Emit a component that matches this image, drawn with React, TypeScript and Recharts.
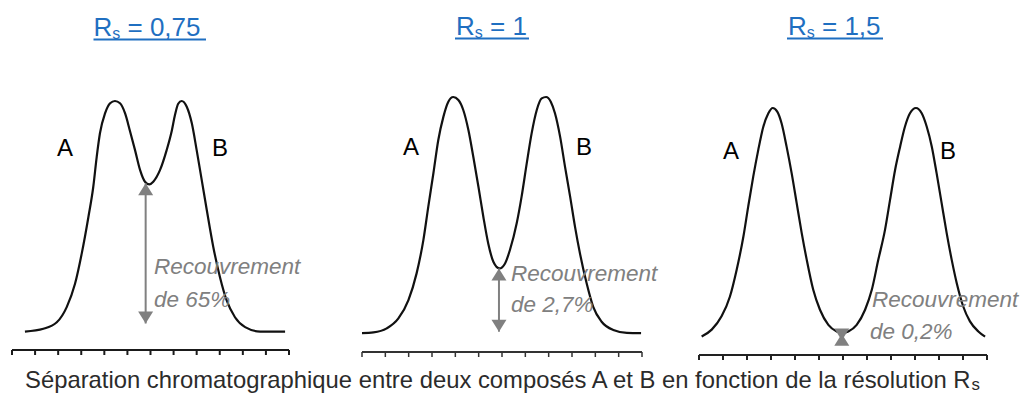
import { LineChart, Line, XAxis, YAxis, ReferenceLine } from 'recharts';

// retention time axis: 12 divisions per panel
const timeTicks = [0, 1, 2, 3, 4, 5, 6, 7, 8, 9, 10, 11, 12];

// Rs = 0,75
const timeA = [0.56, 1.36, 1.94, 2.37, 2.73, 3.02, 3.31, 3.52, 3.67, 3.81, 4.03, 4.25, 4.46, 4.68, 4.9, 5.11, 5.33, 5.55, 5.76, 5.95, 6.12, 6.41, 6.7, 6.92, 7.06, 7.2, 7.35, 7.57, 7.79, 8.0, 8.22, 8.44, 8.72, 9.01, 9.3, 9.66, 10.1, 10.75, 11.83];
const signalA = [0, 1.2, 4, 10.6, 20.7, 33.8, 49.7, 62.7, 75.8, 86, 94.6, 99, 100, 99, 94.6, 87, 78.7, 70, 65, 63.8, 65, 70, 78.7, 87, 93.9, 98.8, 100, 97.5, 90.3, 78.7, 65.7, 52.6, 36.7, 23.6, 13.5, 6.2, 1.9, 0, 0];

// Rs = 1
const timeB = [0, 0.49, 1.06, 1.56, 1.99, 2.34, 2.63, 2.84, 3.06, 3.27, 3.49, 3.7, 3.91, 4.13, 4.34, 4.56, 4.77, 4.99, 5.2, 5.41, 5.63, 5.89, 6.13, 6.34, 6.63, 6.84, 7.06, 7.27, 7.49, 7.7, 7.89, 8.09, 8.27, 8.49, 8.7, 8.92, 9.13, 9.34, 9.63, 9.91, 10.27, 10.77, 11.35, 11.96];
const signalB = [0, 0.3, 2, 6.2, 14, 25.3, 39.4, 53.5, 67.7, 81.8, 91.7, 98, 100, 98.7, 94.5, 86, 74.7, 62, 49.3, 38, 30.2, 27.4, 29.5, 35.2, 46.5, 57.8, 71.9, 84.6, 94.5, 99.4, 100, 98, 93.1, 83.2, 70.5, 57.8, 45, 33.8, 21, 11.1, 4.8, 1.3, 0.1, 0];

// Rs = 1,5
const timeC = [0.11, 0.53, 0.94, 1.29, 1.57, 1.85, 2.05, 2.26, 2.47, 2.68, 2.89, 3.07, 3.26, 3.44, 3.65, 3.86, 4.07, 4.28, 4.49, 4.76, 5.04, 5.39, 5.74, 5.97, 6.22, 6.57, 6.92, 7.2, 7.47, 7.75, 7.96, 8.17, 8.38, 8.58, 8.79, 9.04, 9.28, 9.49, 9.7, 9.9, 10.11, 10.32, 10.53, 10.74, 11.01, 11.29, 11.64, 11.92];
const signalC = [0.1, 3.1, 8.9, 17.6, 29.3, 43.8, 56.9, 70, 81.7, 91.8, 97.7, 100, 98.4, 93.3, 83.1, 71.5, 58.4, 45.3, 33.6, 20.5, 11.8, 5.2, 2.3, 1.6, 2.3, 5.2, 11.8, 20.5, 33.6, 46.7, 59.8, 72.9, 83.1, 91.8, 97.7, 100, 97.7, 91.8, 83.1, 71.5, 58.4, 45.3, 33.6, 23.4, 13.2, 6.7, 2.3, 0];

// overlap arrows: [time, top, bottom]
const overlapA = [5.79, 64.3, 3.5];
const overlapB = [5.87, 27.4, 0.6];
const overlapC = [5.95, -1.7, 1.3];

const titles = ['0,75', '1', '1,5'];
const overlapLabels = ['de 65%', 'de 2,7%', 'de 0,2%'];

const FONT = '"Liberation Sans", Arial, Helvetica, sans-serif';
const GREY = '#808080';

const toRows = (t: number[], s: number[]) => t.map((x, i) => ({ t: x, signal: s[i] }));

const DoubleArrow = (props: any) => {
    const { x1, y1, x2, y2 } = props;
    const len = Math.hypot(x2 - x1, y2 - y1) || 1;
    const ux = (x2 - x1) / len;
    const uy = (y2 - y1) / len;
    const H = 12;
    const W = 7.5;
    const head = (tx: number, ty: number, dx: number, dy: number) => {
        const bx = tx + dx * H;
        const by = ty + dy * H;
        return `${tx},${ty} ${bx - dy * W},${by + dx * W} ${bx + dy * W},${by - dx * W}`;
    };
    return (
        <g>
            <line x1={x1} y1={y1} x2={x2} y2={y2} stroke={GREY} strokeWidth={2} />
            <polygon points={head(x1, y1, ux, uy)} fill={GREY} />
            <polygon points={head(x2, y2, -ux, -uy)} fill={GREY} />
        </g>
    );
};

type PanelProps = {
    t: number[];
    signal: number[];
    overlap: number[];
    left: number;
    width: number;
    margin: { top: number; right: number; bottom: number; left: number };
    axisColor: string;
    tickWidth: number;
};

function Chromatogram({ t, signal, overlap, left, width, margin, axisColor, tickWidth }: PanelProps) {
    const [ot, otop, obottom] = overlap;
    return (
        <div style={{ position: 'absolute', left, top: 0 }}>
            <LineChart width={width} height={394} data={toRows(t, signal)} margin={margin}>
                <XAxis
                    type="number"
                    dataKey="t"
                    domain={[0, 12]}
                    ticks={timeTicks}
                    tickFormatter={() => ''}
                    height={10}
                    tickSize={5}
                    axisLine={{ stroke: axisColor, strokeWidth: 2 }}
                    tickLine={{ stroke: axisColor, strokeWidth: tickWidth }}
                />
                <YAxis type="number" domain={[-8, 100]} hide width={0} />
                <Line
                    type="monotone"
                    dataKey="signal"
                    stroke="#111"
                    strokeWidth={2.2}
                    dot={false}
                    isAnimationActive={false}
                />
                <ReferenceLine
                    segment={[{ x: ot, y: otop }, { x: ot, y: obottom }]}
                    shape={DoubleArrow}
                />
            </LineChart>
        </div>
    );
}

export default function App() {
    const titleX = [93.5, 456, 788];
    const titleY = [36, 35, 35];
    const underline = [[93.5, 206], [455, 529], [787, 883]];
    const labelA = [[57, 156], [403, 155], [723, 159]];
    const labelB = [[212, 156], [576, 155], [940, 159]];
    const note = [[154, 274, 306.5], [511, 280.5, 311.5], [872, 307, 339]];

    return (
        <div style={{ position: 'absolute', left: 0, top: 0, width: 1030, height: 394, background: '#fff', overflow: 'hidden' }}>
            <Chromatogram t={timeA} signal={signalA} overlap={overlapA} left={0} width={340}
                margin={{ top: 101, right: 51, bottom: 34, left: 12 }} axisColor="#1a1a1a" tickWidth={2} />
            <Chromatogram t={timeB} signal={signalB} overlap={overlapB} left={340} width={340}
                margin={{ top: 97, right: 38, bottom: 32, left: 22 }} axisColor="#333" tickWidth={1.5} />
            <Chromatogram t={timeC} signal={signalC} overlap={overlapC} left={680} width={350}
                margin={{ top: 108, right: 43, bottom: 29, left: 19 }} axisColor="#222" tickWidth={2} />

            <svg width={1030} height={394} style={{ position: 'absolute', left: 0, top: 0, pointerEvents: 'none' }}
                fontFamily={FONT}>
                {titles.map((v, i) => (
                    <g key={`title-${i}`}>
                        <text x={titleX[i]} y={titleY[i]} fontSize={26} fill="#1f6fc1">
                            R<tspan fontSize={16} dy={3}>s</tspan><tspan dy={-3}>{` = ${v}`}</tspan>
                        </text>
                        <line x1={underline[i][0]} x2={underline[i][1]} y1={titleY[i] + 3.5} y2={titleY[i] + 3.5}
                            stroke="#1f6fc1" strokeWidth={2} />
                    </g>
                ))}
                {labelA.map(([x, y], i) => (
                    <text key={`a-${i}`} x={x} y={y} fontSize={24} fill="#000">A</text>
                ))}
                {labelB.map(([x, y], i) => (
                    <text key={`b-${i}`} x={x} y={y} fontSize={24} fill="#000">B</text>
                ))}
                {note.map(([x, y1, y2], i) => (
                    <g key={`note-${i}`} fill={GREY} fontStyle="italic" fontSize={22.5}>
                        <text x={x} y={y1}>Recouvrement</text>
                        <text x={x - (i === 2 ? 2 : 0)} y={y2}>{overlapLabels[i]}</text>
                    </g>
                ))}
                <text x={25} y={388} fontSize={24} fill="#2b2b2b" textLength={955} lengthAdjust="spacingAndGlyphs">
                    Séparation chromatographique entre deux composés A et B en fonction de la résolution R<tspan fontSize={17} dx={1} dy={2}>s</tspan>
                </text>
            </svg>
        </div>
    );
}
